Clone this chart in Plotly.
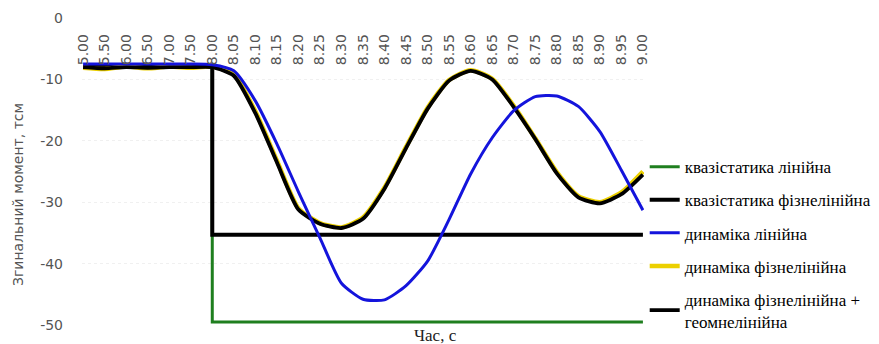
import plotly.graph_objects as go

# Categories (time, s)
categories = ["5.00", "5.50", "6.00", "6.50", "7.00", "7.50", "8.00",
              "8.05", "8.10", "8.15", "8.20", "8.25", "8.30", "8.35", "8.40",
              "8.45", "8.50", "8.55", "8.60", "8.65", "8.70", "8.75", "8.80",
              "8.85", "8.90", "8.95", "9.00"]

# Quasi-static series: vertical drop at 8.00 (repeated category)
static_x = ["5.00", "5.50", "6.00", "6.50", "7.00", "7.50", "8.00", "8.00", "9.00"]
quasi_linear = [-8.0, -8.0, -8.0, -8.0, -8.0, -8.0, -8.0, -49.5, -49.5]
quasi_nonlinear = [-8.0, -8.0, -8.0, -8.0, -8.0, -8.0, -8.0, -35.3, -35.3]

# Dynamic series
dyn_linear = [-7.5, -7.5, -7.5, -7.5, -7.5, -7.5, -7.6,
              -8.6, -13.5, -20.5, -28.3, -35.8, -43.2, -45.8, -45.9,
              -43.6, -39.6, -32.8, -25.4, -19.5, -15.1, -12.8, -12.7,
              -14.4, -18.5, -24.8, -31.3]
dyn_phys = [-8.1, -8.3, -7.9, -8.2, -7.9, -8.1, -7.9,
            -9.2, -15.2, -23.2, -31.0, -33.4, -34.1, -32.5, -27.6,
            -21.0, -14.6, -10.1, -8.5, -9.9, -14.3, -19.6, -25.1,
            -29.0, -30.0, -28.4, -25.0]
dyn_phys_geom = [-8.0, -8.2, -8.0, -8.1, -8.0, -8.0, -8.0,
                 -9.4, -15.5, -23.5, -31.2, -33.5, -34.2, -32.7, -27.8,
                 -21.2, -14.8, -10.2, -8.6, -10.0, -14.5, -19.7, -25.3,
                 -29.2, -30.2, -28.7, -25.5]

names = ["квазістатика лінійна", "квазістатика фізнелінійна", "динаміка лінійна",
         "динаміка фізнелінійна", "динаміка фізнелінійна +<br>геомнелінійна"]
y_ticks = [0, -10, -20, -30, -40, -50]
y_tick_text = ["0", "-10", "-20", "-30", "-40", "-50"]

fig = go.Figure()
fig.add_trace(go.Scatter(x=static_x, y=quasi_linear, mode="lines", name=names[0],
                         line=dict(color="#1f7f1f", width=3), legendrank=1, legendgroup="a"))
fig.add_trace(go.Scatter(x=static_x, y=quasi_nonlinear, mode="lines", name=names[1],
                         line=dict(color="#000000", width=4), legendrank=2, legendgroup="b"))
fig.add_trace(go.Scatter(x=categories, y=dyn_phys, mode="lines", name=names[3],
                         line=dict(color="#ecd000", width=4.5, shape="spline", smoothing=0.6),
                         legendrank=4, legendgroup="d"))
fig.add_trace(go.Scatter(x=categories, y=dyn_phys_geom, mode="lines", name=names[4],
                         line=dict(color="#000000", width=3.8, shape="spline", smoothing=0.6),
                         legendrank=5, legendgroup="e"))
fig.add_trace(go.Scatter(x=categories, y=dyn_linear, mode="lines", name=names[2],
                         line=dict(color="#1414dc", width=3, shape="spline", smoothing=0.6),
                         legendrank=3, legendgroup="c"))

fig.update_layout(
    width=871, height=336,
    margin=dict(l=74, r=235, t=10, b=19, autoexpand=False),
    paper_bgcolor="white", plot_bgcolor="white",
    font=dict(family="DejaVu Sans", color="#555555"),
    showlegend=True,
    legend=dict(xref="container", yref="container", x=0.731, y=0.58,
                xanchor="left", yanchor="top", maxheight=320,
                font=dict(family="Liberation Serif", size=17, color="#000000"),
                tracegroupgap=8, itemwidth=30, bgcolor="rgba(0,0,0,0)"),
    xaxis=dict(type="category", categoryorder="array", categoryarray=categories,
               range=[-0.05, 26.05], side="top", anchor="free", position=0.846,
               tickangle=-90, showgrid=False, showline=False, zeroline=False,
               automargin=False,
               ticks="", tickfont=dict(family="DejaVu Sans", size=14, color="#555555")),
    yaxis=dict(range=[-50, 0], tickvals=y_ticks, ticktext=y_tick_text, showgrid=True,
               gridcolor="#f0f0f0", griddash="dot", zeroline=False, showline=False,
               ticks="", ticklabelstandoff=18, automargin=False,
               tickfont=dict(family="DejaVu Sans", size=14, color="#555555")),
    annotations=[
        dict(text="Час, с", xref="paper", yref="paper", x=(435 - 82) / 562,
             y=-(335 - 325) / 307, xanchor="center", yanchor="middle", showarrow=False,
             font=dict(family="Liberation Serif", size=17, color="#222222")),
        dict(text="Згинальний момент, тсм", xref="paper", yref="paper",
             x=-(82 - 18) / 562, y=(325 - 195) / 307, xanchor="center", yanchor="middle",
             textangle=-90, showarrow=False,
             font=dict(family="DejaVu Sans", size=14, color="#555555")),
    ],
)

fig.write_html("out.html")
